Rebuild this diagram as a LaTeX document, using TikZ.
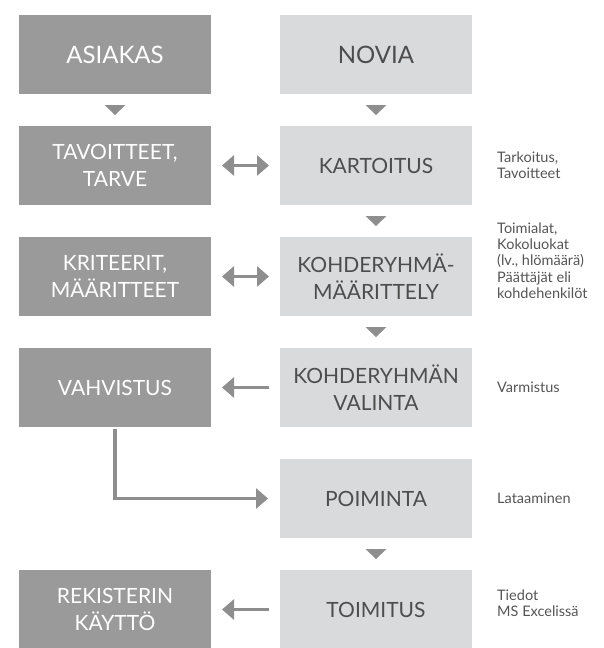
\documentclass[tikz,border=0pt]{standalone}
\usepackage{fontspec}
\setmainfont{Lato}
\usepackage{tikz}
\usetikzlibrary{arrows.meta,
                positioning,
                shadows,
                calc}
\definecolor{darkbox}{HTML}{9A9A9B}
\definecolor{lightbox}{HTML}{D9DADB}
\definecolor{arrowgray}{HTML}{8E8E8F}
\definecolor{boxtext}{HTML}{4D4D4D}
\definecolor{sidetext}{HTML}{555555}
\tikzset{
    base/.style={draw=white, line width=2pt, outer sep=1pt, align=center,
                 minimum width=194pt, minimum height=81pt, inner sep=0pt,
                 drop shadow={shadow xshift=1.2pt, shadow yshift=-1.2pt,
                              fill=black, opacity=0.22},
                 font=\fontsize{21}{27}\selectfont},
        client/.style={base, fill=darkbox, text=white},
        novia/.style={base, fill=lightbox, text=boxtext},
        head/.style={font=\fontsize{24}{28}\selectfont},
        note/.style={align=left, text=sidetext, inner sep=0pt,
                     font=\fontsize{14.5}{16.3}\selectfont},
        myarrow/.style={draw=arrowgray, line width=3.3pt,
                        -{Triangle[width=20pt,length=12pt]}, shorten >=9pt},
        twoway/.style={myarrow, {Triangle[width=20pt,length=12pt]}-{Triangle[width=20pt,length=12pt]},
                       shorten <=9pt},
}

\begin{document}
\begin{tikzpicture}[x=1pt, y=1pt]
    \useasboundingbox (0,0) rectangle (604,-648);

    \node[client, head] (asi) at (115,-54.5) {ASIAKAS};
    \node[novia, head, right=65pt of asi] (nov) {NOVIA};

    \node[client, below=28pt of asi] (tav) {TAVOITTEET,\\TARVE};
    \node[novia, below=28pt of nov] (kar) {KARTOITUS};
    \node[client, below=28pt of tav] (krit) {KRITEERIT,\\MÄÄRITTEET};
    \node[novia, below=28pt of kar] (kohde) {KOHDERYHMÄ-\\MÄÄRITTELY};
    \node[client, below=28pt of krit] (vah) {VAHVISTUS};
    \node[novia, below=28pt of kohde] (val) {KOHDERYHMÄN\\VALINTA};
    \node[novia, below=28pt of val] (poi) {POIMINTA};
    \node[novia, below=28pt of poi] (toim) {TOIMITUS};
    \node[client, left=65pt of toim] (rek) {REKISTERIN\\KÄYTTÖ};

    \node[note, right=23pt of kar] (n1) {Tarkoitus,\\Tavoitteet};
    \node[note, right=23pt of kohde, yshift=16pt] (n2) {Toimialat,\\Kokoluokat\\(lv., hlömäärä)\\Päättäjät eli\\kohdehenkilöt};
    \node[note, right=23pt of val] (n3) {Varmistus};
    \node[note, right=23pt of poi] (n4) {Lataaminen};
    \node[note, right=23pt of toim, yshift=6pt] (n5) {Tiedot\\MS Excelissä};

    % downward triangles
    \foreach \a/\b in {asi/tav, nov/kar, kar/kohde, kohde/val, poi/toim}
        \fill[arrowgray] ($(\a.south)!0.5!(\b.north)$) ++(-10.5pt,5pt)
            -- ++(21pt,0pt) -- ++(-10.5pt,-10pt) -- cycle;

    \draw[twoway] (tav.east) -- (kar.west);
    \draw[twoway] (krit.east) -- (kohde.west);
    \draw[myarrow, shorten <=9pt] (val.west) -- (vah.east);
    \draw[myarrow, shorten >=10pt] (vah.south) |- (poi.west);
    \draw[myarrow, shorten <=9pt] (toim.west) -- (rek.east);

\end{tikzpicture}
\end{document}
